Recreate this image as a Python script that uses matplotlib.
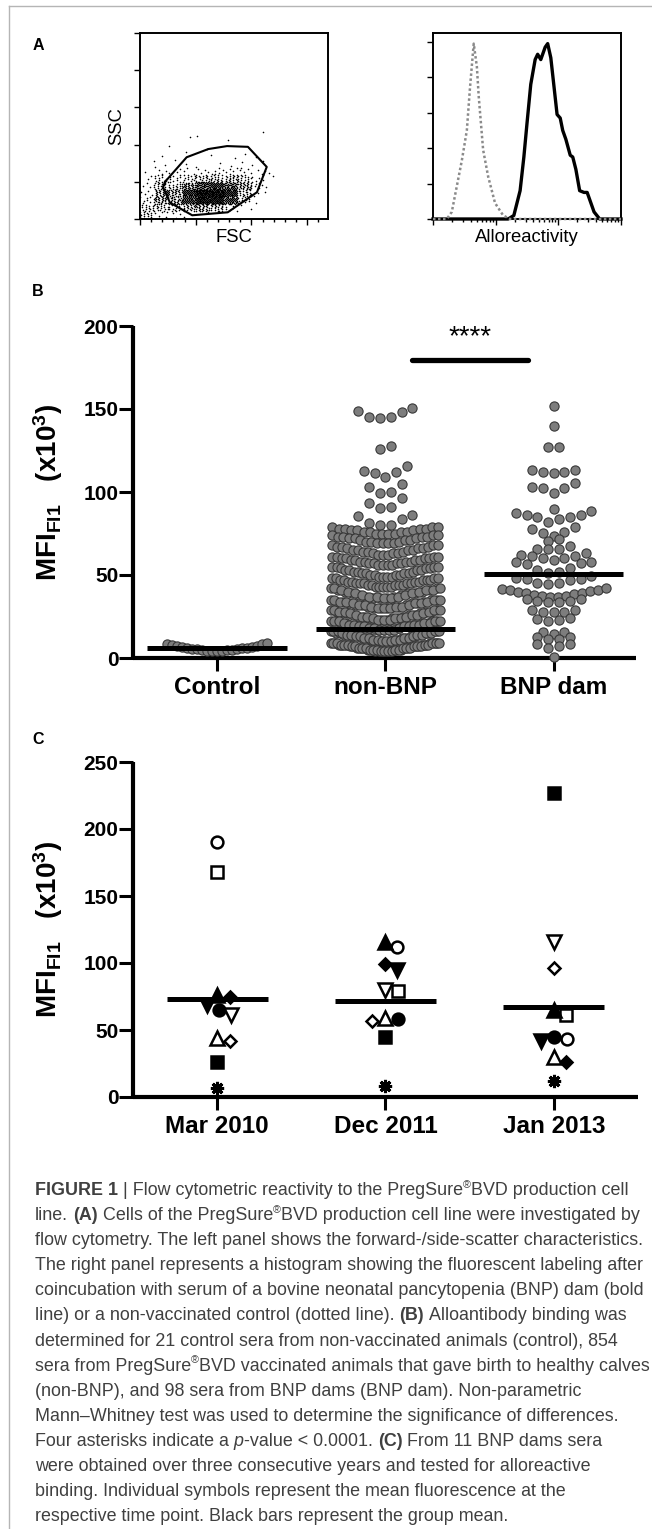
import numpy as np
import matplotlib
matplotlib.use("Agg")
import matplotlib.pyplot as plt
from matplotlib.lines import Line2D
from matplotlib.ticker import MultipleLocator, FixedLocator
from matplotlib import font_manager

W, H, DPI = 652, 1529, 100

# ---------------- Panel A : dot plot FSC / SSC ----------------
# number of events per cell (rows: SSC 0-10 at bottom ... 110-120 at top)
fsc_edges = [0, 20, 40, 60, 80, 100, 120, 140, 160, 180, 200]
ssc_edges = [0, 10, 20, 30, 40, 50, 60, 70, 80, 90, 100, 110, 120]
dot_counts = [
    [16, 6, 3, 1, 1, 0, 0, 0, 0, 0],
    [14, 18, 14, 20, 26, 20, 8, 2, 0, 0],
    [8, 28, 28, 60, 100, 95, 50, 12, 1, 0],
    [4, 26, 28, 65, 110, 110, 70, 22, 3, 0],
    [3, 20, 15, 35, 55, 60, 50, 28, 6, 1],
    [2, 10, 8, 12, 18, 20, 18, 14, 5, 1],
    [1, 4, 3, 3, 4, 5, 5, 5, 3, 1],
    [0, 2, 1, 1, 1, 1, 1, 1, 2, 0],
    [0, 1, 0, 1, 0, 1, 1, 1, 1, 0],
    [0, 0, 1, 0, 1, 0, 0, 0, 0, 0],
    [0, 0, 0, 1, 0, 0, 1, 0, 0, 0],
    [0, 0, 0, 0, 1, 0, 0, 0, 1, 0],
]
gate_fsc = [36, 67, 98, 125, 155, 182, 168, 126, 75, 43, 33, 36]
gate_ssc = [50, 83, 94, 98, 97, 70, 36, 9, 5, 22, 43, 50]

# histograms (x in decades, y in % of max)
ctrl_hist_x = [0.0, 0.22, 0.30, 0.46, 0.54, 0.59, 0.64, 0.65, 0.70, 0.73, 0.80, 0.88, 0.99, 1.12, 1.23, 3.0]
ctrl_hist_y = [0, 0, 4, 33, 50, 74, 95, 99, 86, 69, 39, 24, 9, 2, 0, 0]
bnp_hist_x = [0.0, 1.20, 1.29, 1.39, 1.45, 1.50, 1.56, 1.63, 1.67, 1.72, 1.79, 1.83, 1.88, 1.93,
              1.98, 2.03, 2.07, 2.12, 2.19, 2.23, 2.28, 2.34, 2.41, 2.46, 2.50, 2.57, 2.66, 3.0]
bnp_hist_y = [0, 0, 2, 16, 35, 54, 76, 90, 93, 90, 97, 99, 91, 75,
              59, 57, 50, 45, 36, 35, 28, 16, 15, 15, 11, 4, 0, 0]

# ---------------- Panel B ----------------
groups_b = ["Control", "non-BNP", "BNP dam"]
control_vals = [4.0, 4.2, 4.4, 4.5, 4.7, 4.9, 5.0, 5.2, 5.4, 5.6, 5.8, 6.0,
                6.2, 6.5, 6.8, 7.1, 7.4, 7.8, 8.2, 8.7, 9.2]
# non-BNP sera below 80 that can be seen: number of dots per 1-unit value (4 ... 79)
nonbnp_low_vals = list(range(4, 80))
nonbnp_low_counts = [9, 10, 11, 10, 10, 10,
                     7, 7, 8, 7, 7, 7, 7,
                     8, 7, 8, 7, 7, 8,
                     6, 6, 6, 6, 5, 6, 5,
                     6, 6, 6, 6, 6, 6,
                     5, 5, 4, 5, 4, 5, 4,
                     5, 5, 5, 4, 5, 4,
                     4, 4, 4, 3, 4, 3, 4,
                     4, 4, 4, 4, 4, 4,
                     3, 3, 3, 4, 3, 3, 3,
                     4, 3, 3, 3, 4, 3,
                     4, 4, 3, 4, 3]
# non-BNP sera above 80, row by row
nonbnp_high_rows = [
    [148.8, 145.0, 144.6, 145.0, 148.0, 150.6],
    [128.0, 126.0],
    [115.7, 112.0, 109.0, 111.4, 112.6],
    [104.8, 100.0, 99.4, 103.0],
    [93.4, 90.4, 91.0, 96.4],
    [86.1, 83.7, 80.0, 80.0, 81.3, 85.5],
]
bnp_rows = [
    [151.8],
    [139.9],
    [127.3, 127.3],
    [113.5, 112.0, 111.2, 112.0, 113.5],
    [103.0, 102.4, 99.6, 102.6, 105.6],
    [89.8],
    [88.6, 86.1, 84.9, 83.7, 82.1, 85.1, 86.1, 87.3],
    [78.9, 76.1, 73.7, 75.1, 77.7],
    [71.7, 70.7],
    [67.5, 65.7, 65.5, 65.5],
    [63.2, 61.6, 60.4, 59.0, 60.4, 61.4, 62.2],
    [58.0, 57.4, 54.0, 52.0, 51.4, 53.0, 56.6, 57.8],
    [48.0, 47.4, 45.4, 44.6, 45.4, 47.0, 47.8, 49.4],
    [42.4, 41.0, 40.0, 39.0, 38.0, 37.4, 37.0, 37.0, 37.4, 38.6, 39.4, 40.2, 41.0, 41.4],
    [35.5, 34.5, 33.5, 33.5, 34.5, 35.5],
    [29.0, 28.0, 27.5, 28.0, 29.0],
    [24.0, 23.0, 22.5, 23.5],
    [15.5, 14.5, 15.5],
    [12.5, 11.5, 11.5, 12.5],
    [8.5, 7.0, 6.0, 8.5],
    [0.6],
]
means_b = [6.0, 17.5, 50.5]

# ---------------- Panel C ----------------
years = ["Mar 2010", "Dec 2011", "Jan 2013"]
dams_mar2010 = [190, 168, 76, 75, 69, 65, 61, 44, 42, 26, 7]
dams_dec2011 = [112, 79, 116, 99, 95, 58, 80, 59, 57, 45, 8.5]
dams_jan2013 = [43, 61, 65, 26, 42, 45, 116, 30, 96, 227, 12]
means_c = [73.5, 71.5, 67.5]

# one symbol per dam: (marker, filled, size)
dam_styles = [("o", False, 8.5), ("s", False, 8.0), ("^", True, 9.5), ("D", True, 6.2),
              ("v", True, 9.5), ("o", True, 8.5), ("v", False, 9.5), ("^", False, 9.5),
              ("D", False, 6.2), ("s", True, 8.0), ((8, 2, 0), True, 9.5)]

# ---------------- caption ----------------
caption = [
    [("FIGURE 1", "b"), (" | Flow cytometric reactivity to the PregSure", "n"), ("\u00ae", "sup"), ("BVD production cell", "n")],
    [("line. ", "n"), ("(A)", "b"), (" Cells of the PregSure", "n"), ("\u00ae", "sup"), ("BVD production cell line were investigated by", "n")],
    [("flow cytometry. The left panel shows the forward-/side-scatter characteristics.", "n")],
    [("The right panel represents a histogram showing the fluorescent labeling after", "n")],
    [("coincubation with serum of a bovine neonatal pancytopenia (BNP) dam (bold", "n")],
    [("line) or a non-vaccinated control (dotted line). ", "n"), ("(B)", "b"), (" Alloantibody binding was", "n")],
    [("determined for 21 control sera from non-vaccinated animals (control), 854", "n")],
    [("sera from PregSure", "n"), ("\u00ae", "sup"), ("BVD vaccinated animals that gave birth to healthy calves", "n")],
    [("(non-BNP), and 98 sera from BNP dams (BNP dam). Non-parametric", "n")],
    [("Mann\u2013Whitney test was used to determine the significance of differences.", "n")],
    [("Four asterisks indicate a ", "n"), ("p", "i"), ("-value < 0.0001. ", "n"), ("(C)", "b"), (" From 11 BNP dams sera", "n")],
    [("were obtained over three consecutive years and tested for alloreactive", "n")],
    [("binding. Individual symbols represent the mean fluorescence at the", "n")],
    [("respective time point. Black bars represent the group mean.", "n")],
]

# ======================================================================
plt.rcParams['font.family'] = ['Liberation Sans', 'DejaVu Sans']
plt.rcParams['mathtext.fontset'] = 'custom'
plt.rcParams['mathtext.rm'] = 'Liberation Sans'
plt.rcParams['mathtext.bf'] = 'Liberation Sans:bold'
plt.rcParams['mathtext.it'] = 'Liberation Sans:italic'

fig = plt.figure(figsize=(W / DPI, H / DPI), dpi=DPI)
renderer = fig.canvas.get_renderer()


def box(x0, y0, x1, y1):
    return [x0 / W, 1 - y1 / H, (x1 - x0) / W, (y1 - y0) / H]


def cell_points(counts, xedges, yedges):
    # spread the events of each cell evenly inside it (R2 low discrepancy sequence)
    g = 1.32471795724474602596
    a1, a2 = 1 / g, 1 / g ** 2
    xs, ys = [], []
    k = 0
    for i, row in enumerate(counts):
        for j, n in enumerate(row):
            for m in range(n):
                k += 1
                u = (0.5 + a1 * k) % 1
                v = (0.5 + a2 * k) % 1
                xs.append(xedges[j] + u * (xedges[j + 1] - xedges[j]))
                ys.append(yedges[i] + v * (yedges[i + 1] - yedges[i]))
    return xs, ys


def row_layout(vals, center, step, maxw):
    # GraphPad like row: lowest value in the middle, rising to the sides
    vals = sorted(vals)
    n = len(vals)
    sp = step if n < 2 else min(step, maxw / (n - 1))
    slots = (np.arange(n) - (n - 1) / 2) * sp
    order = sorted(range(n), key=lambda i: (abs(slots[i]), slots[i]))
    xs = np.empty(n)
    ys = np.empty(n)
    for v, i in zip(vals, order):
        xs[i] = center + slots[i]
        ys[i] = v
    return xs, ys


def dense_rows(values, center, row_h, v0, step, cap, maxw):
    # crowded rows are drawn as interleaved layers
    vals = np.sort(np.asarray(values, dtype=float))
    bins = np.floor((vals - v0) / row_h)
    out = []
    for b in np.unique(bins)[::-1]:
        rv = vals[bins == b]
        nsub = int(np.ceil(len(rv) / cap))
        for k in range(nsub):
            sub = rv[k::nsub]
            c = center + (k - (nsub - 1) / 2) * (maxw / max(len(sub) - 1, 1)) / nsub
            out.append(row_layout(sub, c, step, maxw))
    return out


def swarm_offsets(y_px, diam, step=1.0):
    offs = np.zeros(len(y_px))
    placed = []
    cands = [0.0] + [s * k * step for k in range(1, 400) for s in (1, -1)]
    for i in np.argsort(y_px)[::-1]:
        for off in cands:
            if all((off - po) ** 2 + (y_px[i] - py) ** 2 >= diam ** 2 for po, py in placed):
                break
        offs[i] = off
        placed.append((off, y_px[i]))
    return offs


# ---------- A left ----------
axA1 = fig.add_axes(box(140, 33, 328, 219))
xs, ys = cell_points(dot_counts, fsc_edges, ssc_edges)
axA1.scatter(xs, ys, s=1.3, c='black', marker='o', linewidths=0)
axA1.plot(gate_fsc, gate_ssc, color='black', lw=1.5)
axA1.set_xlim(0, 270)
axA1.set_ylim(0, 250)
axA1.set_xticks([0, 80, 160, 240])
axA1.xaxis.set_minor_locator(MultipleLocator(16))
axA1.set_yticks([0, 50, 100, 150, 200, 250])

# ---------- A right ----------
axA2 = fig.add_axes(box(433, 33, 621, 219))
axA2.plot(bnp_hist_x, bnp_hist_y, color='black', lw=2.4, clip_on=False, zorder=3)
axA2.plot(ctrl_hist_x, ctrl_hist_y, color='#8a8a8a', lw=1.8, ls=(0, (1, 1)), clip_on=False, zorder=4)
axA2.set_xlim(0, 3)
axA2.set_ylim(0, 105)
axA2.set_xticks([0, 1, 2, 3])
axA2.xaxis.set_minor_locator(FixedLocator([d + np.log10(m) for d in range(3) for m in range(2, 10)]))
axA2.set_yticks([0, 20, 40, 60, 80, 100])

for ax in (axA1, axA2):
    ax.tick_params(which='both', direction='out', labelbottom=False, labelleft=False, width=1)
    ax.tick_params(which='major', length=4)
    ax.tick_params(which='minor', length=2)
    for sp in ax.spines.values():
        sp.set_linewidth(1.4)

fig.text(117 / W, 1 - 126 / H, "SSC", rotation=90, ha='center', va='center', fontsize=13.3)
fig.text(234 / W, 1 - 238 / H, "FSC", ha='center', va='center', fontsize=13.3)
fig.text(527 / W, 1 - 238 / H, "Alloreactivity", ha='center', va='center', fontsize=13.3)


def style_dot_axes(ax, yticks, xlabels):
    for s in ('top', 'right'):
        ax.spines[s].set_visible(False)
    for s in ('left', 'bottom'):
        ax.spines[s].set_linewidth(3.0)
        ax.spines[s].set_capstyle('butt')
    ax.set_yticks(yticks)
    ax.set_yticklabels([str(t) for t in yticks], fontsize=15, fontweight='bold')
    ax.set_xticks(range(len(xlabels)))
    ax.set_xticklabels(xlabels, fontsize=17.5, fontweight='bold')
    ax.tick_params(axis='y', length=10, width=2.2, pad=0.5)
    ax.tick_params(axis='x', length=9, width=2.2, pad=4)
    ax.text(-0.169, 0.5, r'$\mathbf{MFI_{FI1}\ \ \ (x10^{3})}$', rotation=90, ha='center', va='center',
            fontsize=20, transform=ax.transAxes)


# ---------- B ----------
axB = fig.add_axes(box(133, 326, 636, 658))
axB.set_xlim(-0.5, 2.49)
axB.set_ylim(0, 200)
ppx = 168.2
step_b = 10.8 / ppx
maxw_b = 104 / ppx

rows = [row_layout(control_vals, 0, step_b, 100 / ppx)]
for row in nonbnp_high_rows:
    rows.append(row_layout(row, 1, step_b, maxw_b))
rows += dense_rows(np.repeat(nonbnp_low_vals, nonbnp_low_counts), 1, 6.5, 3.3, 7.3 / ppx, 30, 106 / ppx)
for row in bnp_rows:
    rows.append(row_layout(row, 2, step_b, maxw_b))
for x, y in rows:
    axB.scatter(x, y, s=44, facecolor='#7d7d7d', edgecolor='#383838', linewidths=0.8,
                clip_on=False, zorder=3)
for i, m in enumerate(means_b):
    axB.plot([i - 0.415, i + 0.415], [m, m], color='black', lw=3.6, solid_capstyle='butt', zorder=5, clip_on=False)
axB.plot([1.16, 1.85], [179.5, 179.5], color='black', lw=3.8, solid_capstyle='round', clip_on=False)
axB.text(1.505, 189, "****", ha='center', va='baseline', fontsize=20)
style_dot_axes(axB, [0, 50, 100, 150, 200], groups_b)

# ---------- C ----------
axC = fig.add_axes(box(133, 762, 638, 1097))
axC.set_xlim(-0.5, 2.5)
axC.set_ylim(0, 250)
style_dot_axes(axC, [0, 50, 100, 150, 200, 250], years)
px_per_x = axC.transData.transform((1, 0))[0] - axC.transData.transform((0, 0))[0]
for i, vals in enumerate([dams_mar2010, dams_dec2011, dams_jan2013]):
    y_px = np.array([axC.transData.transform((i, v))[1] for v in vals])
    offs = swarm_offsets(y_px, 13.0)
    for v, off, (mk, filled, ms) in zip(vals, offs, dam_styles):
        axC.plot(i + off / px_per_x, v, marker=mk, ms=ms, mew=1.8 if mk != (8, 2, 0) else 2.2,
                 mfc='black' if filled else 'white', mec='black', ls='none', clip_on=False, zorder=3)
    axC.plot([i - 0.30, i + 0.30], [means_c[i], means_c[i]], color='black', lw=3.6,
             solid_capstyle='butt', zorder=5)

# panel letters
for lab, py in (("A", 45), ("B", 292), ("C", 740)):
    fig.text(38 / W, 1 - py / H, lab, fontsize=11.5, fontweight='bold', ha='center', va='center')

# page frame
fig.add_artist(Line2D([9 / W, 9 / W], [0, 1 - 6 / H], transform=fig.transFigure, color='#b5b5b5', lw=1))
fig.add_artist(Line2D([9 / W, 1], [1 - 6 / H, 1 - 6 / H], transform=fig.transFigure, color='#b5b5b5', lw=1))

# ---------- caption ----------
names = {f.name for f in font_manager.fontManager.ttflist}
cap_family = 'Liberation Sans Narrow' if 'Liberation Sans Narrow' in names else 'Liberation Sans'
cap_color = '#404040'


def seg_width(s, **kw):
    a = fig.text(0, 0, "|" + s + "|", **kw)
    b = fig.text(0, 0, "||", **kw)
    w = a.get_window_extent(renderer).width - b.get_window_extent(renderer).width
    a.remove()
    b.remove()
    return w


ref_w = seg_width(caption[2][0][0], family=cap_family, fontsize=12.7)
cap_size = 12.7 * 607 / ref_w

for li, line in enumerate(caption):
    x = 35.0
    base = 1195 + 25.1 * li
    for text, st in line:
        kw = dict(family=cap_family, fontsize=cap_size, color=cap_color)
        yb = base
        if st == 'b':
            kw['fontweight'] = 'bold'
        elif st == 'i':
            kw['fontstyle'] = 'italic'
        elif st == 'sup':
            kw['fontsize'] = cap_size * 0.6
            yb = base - cap_size * 0.55
        lead = len(text) - len(text.lstrip(' '))
        trail = len(text) - len(text.rstrip(' '))
        core = text.strip(' ')
        if lead:
            x += seg_width(' ' * lead, **kw)
        fig.text(x / W, 1 - yb / H, core, ha='left', va='baseline', **kw)
        x += seg_width(core, **kw)
        if trail:
            x += seg_width(' ' * trail, **kw)

fig.savefig("out.png", dpi=DPI)
